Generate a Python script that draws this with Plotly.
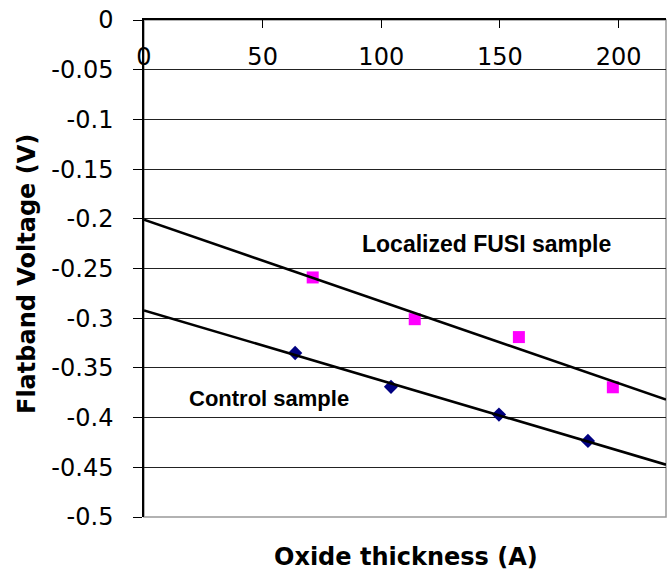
import numpy as np
import plotly.graph_objects as go

# Data
control_x = [63.7, 104.1, 149.6, 187.1]
control_y = [-0.335, -0.369, -0.397, -0.4235]
fusi_x = [71.1, 114.1, 158.0, 197.6]
fusi_y = [-0.259, -0.301, -0.319, -0.3695]

x_ticks = [0, 50, 100, 150, 200]
y_ticks = [0, -0.05, -0.1, -0.15, -0.2, -0.25, -0.3, -0.35, -0.4, -0.45, -0.5]
y_ticktext = ["0", "-0.05", "-0.1", "-0.15", "-0.2", "-0.25", "-0.3", "-0.35", "-0.4", "-0.45", "-0.5"]
x_range = [0, 220]

# Linear trendlines (least squares, like Excel trendline)
trend_x = np.array(x_range, dtype=float)
cf = np.polyfit(control_x, control_y, 1)
ff = np.polyfit(fusi_x, fusi_y, 1)

fig = go.Figure()
fig.add_trace(go.Scatter(x=fusi_x, y=fusi_y, mode="markers",
                         marker=dict(symbol="square", size=12, color="#FF00FF"),
                         name="Localized FUSI sample"))
fig.add_trace(go.Scatter(x=control_x, y=control_y, mode="markers",
                         marker=dict(symbol="diamond", size=11, color="#000080"),
                         name="Control sample"))
fig.add_trace(go.Scatter(x=trend_x, y=np.polyval(ff, trend_x), mode="lines",
                         line=dict(color="black", width=2.6), name="FUSI fit"))
fig.add_trace(go.Scatter(x=trend_x, y=np.polyval(cf, trend_x), mode="lines",
                         line=dict(color="black", width=2.6), name="Control fit"))

tick_font = dict(family="DejaVu Sans", size=24, color="black")

fig.update_layout(
    width=668, height=576,
    margin=dict(l=144, r=2, t=20, b=59),
    paper_bgcolor="white", plot_bgcolor="white",
    showlegend=False,
    xaxis=dict(
        range=x_range, side="top", tickvals=x_ticks,
        ticks="inside", ticklen=8, tickcolor="black", tickwidth=1,
        ticklabelposition="inside", ticklabelstandoff=22, ticklabeloverflow="allow",
        showline=True, linecolor="black", linewidth=1.5,
        showgrid=False, zeroline=False, tickfont=tick_font,
    ),
    yaxis=dict(
        range=[-0.5, 0], tickvals=y_ticks, ticktext=y_ticktext,
        ticks="outside", ticklen=9, tickcolor="black", tickwidth=1,
        ticklabelstandoff=15,
        showline=True, linecolor="black", linewidth=1.5,
        showgrid=True, gridcolor="#222222", gridwidth=1.2, zeroline=False,
        tickfont=tick_font,
    ),
    shapes=[dict(type="rect", xref="paper", yref="paper", x0=0, x1=1, y0=0, y1=1,
                 line=dict(color="#999999", width=1.5), layer="below")],
    annotations=[
        dict(text="Localized FUSI sample", xref="paper", yref="paper",
             x=(486 - 144) / 522, y=(517 - 244) / 497, xanchor="center", yanchor="middle",
             showarrow=False, font=dict(family="Liberation Sans", size=23, color="black", weight="bold")),
        dict(text="Control sample", xref="paper", yref="paper",
             x=(269 - 144) / 522, y=(517 - 398) / 497, xanchor="center", yanchor="middle",
             showarrow=False, font=dict(family="Liberation Sans", size=22, color="black", weight="bold")),
        dict(text="Oxide thickness (A)", xref="paper", yref="paper",
             x=(406 - 144) / 522, y=(517 - 557) / 497, xanchor="center", yanchor="middle",
             showarrow=False, font=dict(family="DejaVu Sans", size=24, color="black", weight="bold")),
        dict(text="Flatband Voltage (V)", xref="paper", yref="paper", textangle=-90,
             x=(27 - 144) / 522, y=(517 - 274) / 497, xanchor="center", yanchor="middle",
             showarrow=False, font=dict(family="DejaVu Sans", size=24, color="black", weight="bold")),
    ],
)

fig.write_html("out.html")
